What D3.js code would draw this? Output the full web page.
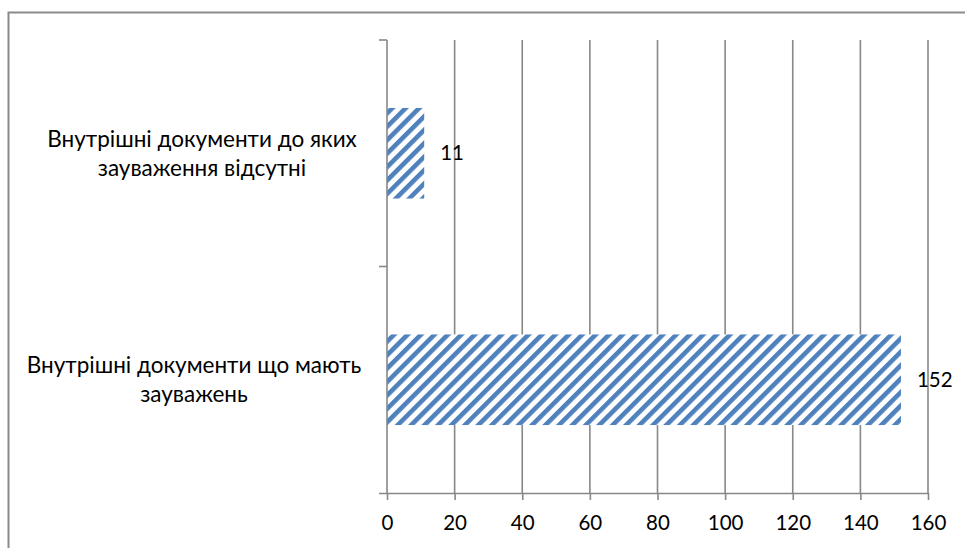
<!DOCTYPE html>
<html>
<head>
<meta charset="utf-8">
<script src="https://cdn.jsdelivr.net/npm/d3@7"></script>
<style>
  html, body { margin: 0; padding: 0; background: #fff; }
  svg { display: block; }
  text { font-family: Lato, "Open Sans", sans-serif; fill: #000; }
</style>
</head>
<body>
<svg id="chart" width="965" height="548"></svg>
<script>
// ---- data ----
const categories = [
  "Внутрішні документи до яких зауваження відсутні",
  "Внутрішні документи що мають зауважень"
];
const categoryLines = [
  ["Внутрішні документи до яких", "зауваження відсутні"],
  ["Внутрішні документи що мають", "зауважень"]
];
const values = [11, 152];
const xTicks = [0, 20, 40, 60, 80, 100, 120, 140, 160];

// ---- layout ----
const plot = { left: 387, right: 928, top: 40, bottom: 493 };
const gridColor = "#888888";
const barColor = "#4f81bd";
const numFont = 20.5;
const catFont = 22.5;
const labelCenters = [202, 194];

const svg = d3.select("#chart");

// pattern
const defs = svg.append("defs");
const pat = defs.append("pattern")
  .attr("id", "stripes")
  .attr("patternUnits", "userSpaceOnUse")
  .attr("width", 9.5).attr("height", 9.5)
  .attr("patternTransform", "rotate(45)");
pat.append("rect").attr("width", 9.5).attr("height", 9.5).attr("fill", "#fff");
pat.append("rect").attr("x", 0).attr("y", 0).attr("width", 4.6).attr("height", 9.5).attr("fill", barColor);

// outer border (right and bottom edges fall outside the picture)
svg.append("rect")
  .attr("x", 8.5).attr("y", 12.5)
  .attr("width", 980).attr("height", 560)
  .attr("fill", "none").attr("stroke", "#8a8a8a").attr("stroke-width", 2);

const x = d3.scaleLinear().domain([0, 160]).range([plot.left, plot.right]);
const y = d3.scaleBand().domain(categories).range([plot.top, plot.bottom])
  .paddingInner(0.6).paddingOuter(0.3);

// vertical gridlines
svg.append("g").selectAll("line")
  .data(xTicks.filter(d => d > 0))
  .join("line")
  .attr("x1", d => x(d)).attr("x2", d => x(d))
  .attr("y1", plot.top).attr("y2", plot.bottom)
  .attr("stroke", gridColor).attr("stroke-width", 1.6);

// bars
svg.append("g").selectAll("rect")
  .data(categories)
  .join("rect")
  .attr("x", x(0))
  .attr("y", d => y(d))
  .attr("width", (d, i) => x(values[i]) - x(0))
  .attr("height", y.bandwidth())
  .attr("fill", "url(#stripes)");

// x axis
const xAxis = d3.axisBottom(x).tickValues(xTicks).tickSize(7).tickPadding(15).tickSizeOuter(0);
const gx = svg.append("g").attr("transform", `translate(0,${plot.bottom})`).call(xAxis);
gx.select(".domain").attr("stroke", gridColor).attr("stroke-width", 1.6)
  .attr("d", `M${plot.left - 8},0.5H${plot.right}`);
gx.selectAll(".tick line").attr("stroke", gridColor).attr("stroke-width", 1.6);
gx.selectAll(".tick text").attr("font-size", numFont).attr("font-family", "Lato").attr("fill", "#000");

// y axis (category boundaries)
const yAxisLine = svg.append("g");
yAxisLine.append("line")
  .attr("x1", plot.left).attr("x2", plot.left)
  .attr("y1", plot.top).attr("y2", plot.bottom)
  .attr("stroke", gridColor).attr("stroke-width", 1.6);
const boundaries = [plot.top, (y(categories[0]) + y.bandwidth() + y(categories[1])) / 2];
yAxisLine.selectAll("line.tk")
  .data(boundaries)
  .join("line").attr("class", "tk")
  .attr("x1", plot.left - 8).attr("x2", plot.left)
  .attr("y1", d => d).attr("y2", d => d)
  .attr("stroke", gridColor).attr("stroke-width", 1.6);

// category labels
const lineH = 29;
const labels = svg.append("g");
categories.forEach((c, i) => {
  const cy = y(c) + y.bandwidth() / 2;
  const lines = categoryLines[i];
  const t = labels.append("text")
    .attr("text-anchor", "middle")
    .attr("font-size", catFont);
  lines.forEach((ln, j) => {
    t.append("tspan")
      .attr("x", labelCenters[i])
      .attr("y", cy + (j - (lines.length - 1) / 2) * lineH)
      .attr("dy", "0.35em")
      .text(ln);
  });
});

// value labels
svg.append("g").selectAll("text")
  .data(categories)
  .join("text")
  .attr("x", (d, i) => x(values[i]) + 16)
  .attr("y", d => y(d) + y.bandwidth() / 2)
  .attr("dy", "0.35em")
  .attr("font-size", numFont)
  .text((d, i) => values[i]);
</script>
</body>
</html>
